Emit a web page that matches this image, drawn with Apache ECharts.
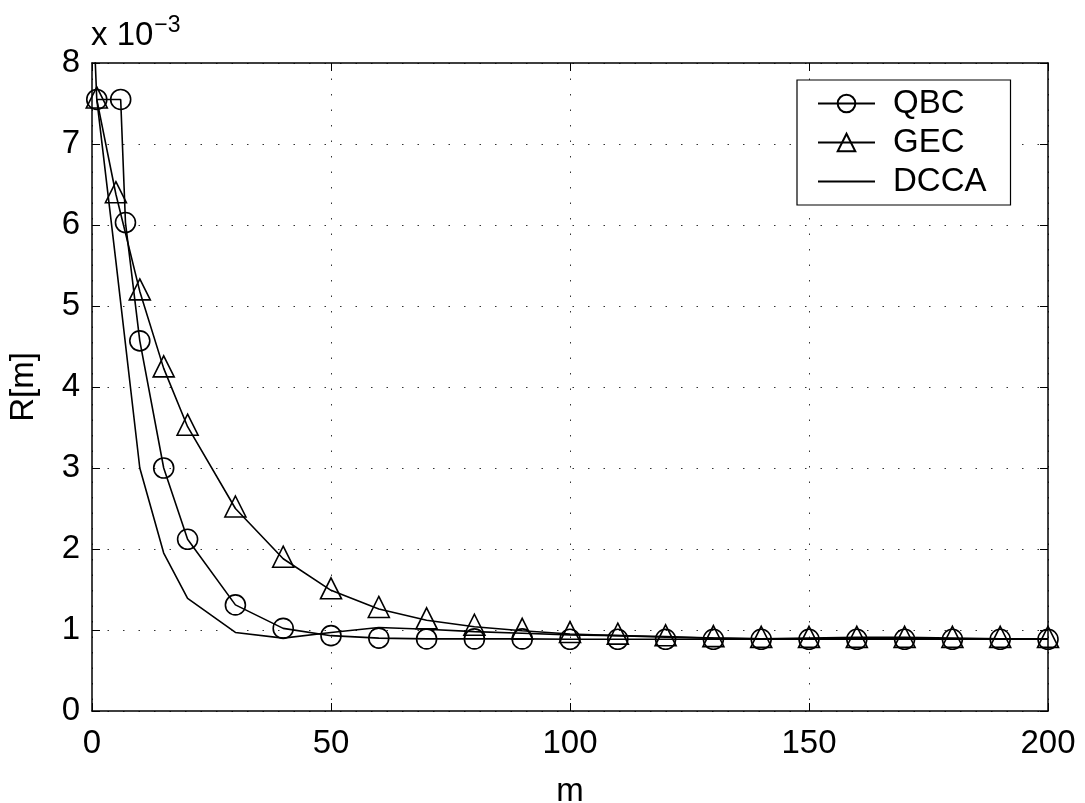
<!DOCTYPE html>
<html>
<head>
<meta charset="utf-8">
<script src="https://cdn.jsdelivr.net/npm/echarts@6/dist/echarts.min.js"></script>
<style>
  html, body { margin: 0; padding: 0; background: #fff; }
  #chart { width: 1085px; height: 803px; }
</style>
</head>
<body>
<div id="chart"></div>
<script>
// values in units of 1e-3
var qbcM = [1, 6, 7, 10, 15, 20, 30, 40, 50, 60, 70, 80, 90, 100, 110, 120, 130, 140, 150, 160, 170, 180, 190, 200];
var qbcR = [7.55, 7.55, 6.03, 4.57, 3.0, 2.12, 1.31, 1.02, 0.93, 0.9, 0.89, 0.89, 0.89, 0.885, 0.885, 0.885, 0.885, 0.885, 0.885, 0.885, 0.885, 0.885, 0.885, 0.885];

var gecM = [1, 5, 10, 15, 20, 30, 40, 50, 60, 70, 80, 90, 100, 110, 120, 130, 140, 150, 160, 170, 180, 190, 200];
var gecR = [7.55, 6.38, 5.18, 4.23, 3.51, 2.5, 1.88, 1.49, 1.26, 1.12, 1.04, 0.99, 0.95, 0.93, 0.91, 0.9, 0.89, 0.89, 0.89, 0.89, 0.89, 0.89, 0.89];

var dccaM = [0, 1, 5, 10, 15, 20, 30, 40, 50, 60, 70, 80, 90, 100, 110, 120, 130, 140, 150, 160, 170, 180, 190, 200];
var dccaR = [9, 7.55, 5.55, 3.0, 1.95, 1.39, 0.97, 0.9, 0.97, 1.03, 1.01, 0.98, 0.96, 0.94, 0.93, 0.92, 0.9, 0.89, 0.9, 0.91, 0.91, 0.9, 0.89, 0.89];

var yTicks = [0, 1, 2, 3, 4, 5, 6, 7, 8];
var xTicks = [0, 50, 100, 150, 200];

function pairs(xs, ys) {
    return xs.map(function (x, i) { return [x, ys[i]]; });
}

var font = 'Liberation Sans, Arial, Helvetica, sans-serif';
var chart = echarts.init(document.getElementById('chart'), null, { renderer: 'canvas' });

var gridLine = { show: true, lineStyle: { color: '#333', width: 1, type: [1.5, 14] } };
var tick = { show: true, inside: true, length: 8, lineStyle: { color: '#000', width: 1 } };
var axisLine = { show: true, onZero: false, lineStyle: { color: '#000', width: 1.5 } };

var option = {
    animation: false,
    backgroundColor: '#fff',
    grid: { left: 92, right: 37, top: 63, bottom: 92, containLabel: false, outerBoundsMode: 'none' },
    graphic: [{
        type: 'text',
        left: 91,
        top: 14,
        style: {
            text: 'x 10{s|−3}',
            font: '33px ' + font,
            fill: '#000',
            rich: { s: { fontSize: 23, fontFamily: font, verticalAlign: 'top', padding: [0, 0, 20, 1] } }
        }
    }],
    legend: {
        orient: 'vertical',
        left: 797,
        top: 80,
        padding: [7, 24, 7, 20],
        itemWidth: 57,
        itemHeight: 22,
        itemGap: 6,
        borderColor: '#000',
        borderWidth: 1.2,
        backgroundColor: '#fff',
        textStyle: { fontFamily: font, fontSize: 33, color: '#000', padding: [0, 0, 0, 13] },
        data: [
            'QBC',
            'GEC',
            { name: 'DCCA', itemStyle: { color: 'rgba(0,0,0,0)', borderWidth: 0, opacity: 0 } }
        ]
    },
    xAxis: [{
        type: 'value',
        min: 0, max: 200, interval: 50,
        name: 'm', nameLocation: 'middle', nameGap: 64,
        nameTextStyle: { fontFamily: font, fontSize: 33, color: '#000' },
        axisLine: axisLine,
        axisTick: tick,
        axisLabel: {
            margin: 16, fontFamily: font, fontSize: 33, color: '#000',
            formatter: function (v) { return xTicks.indexOf(v) >= 0 ? String(v) : ''; }
        },
        splitLine: gridLine
    }, {
        type: 'value', position: 'top',
        min: 0, max: 200, interval: 50,
        axisLine: axisLine, axisTick: tick,
        axisLabel: { show: false }, splitLine: { show: false }
    }],
    yAxis: [{
        type: 'value',
        min: 0, max: 8, interval: 1,
        name: 'R[m]', nameLocation: 'middle', nameGap: 52, nameRotate: 90,
        nameTextStyle: { fontFamily: font, fontSize: 33, color: '#000' },
        axisLine: axisLine,
        axisTick: tick,
        axisLabel: {
            margin: 12, fontFamily: font, fontSize: 33, color: '#000',
            formatter: function (v) { return yTicks.indexOf(v) >= 0 ? String(v) : ''; }
        },
        splitLine: gridLine
    }, {
        type: 'value', position: 'right',
        min: 0, max: 8, interval: 1,
        axisLine: axisLine, axisTick: tick,
        axisLabel: { show: false }, splitLine: { show: false }
    }],
    series: [{
        name: 'QBC',
        type: 'line',
        data: pairs(qbcM, qbcR),
        symbol: 'circle',
        symbolSize: 20,
        showAllSymbol: true,
        lineStyle: { color: '#000', width: 1.6 },
        itemStyle: { color: 'rgba(0,0,0,0)', borderColor: '#000', borderWidth: 1.6 },
        z: 3
    }, {
        name: 'GEC',
        type: 'line',
        data: pairs(gecM, gecR),
        symbol: 'triangle',
        symbolSize: 21,
        symbolOffset: [0, -2],
        showAllSymbol: true,
        lineStyle: { color: '#000', width: 1.6 },
        itemStyle: { color: 'rgba(0,0,0,0)', borderColor: '#000', borderWidth: 1.6 },
        z: 3
    }, {
        name: 'DCCA',
        type: 'line',
        data: pairs(dccaM, dccaR),
        symbol: 'none',
        lineStyle: { color: '#000', width: 1.6 },
        itemStyle: { color: '#000' },
        z: 3
    }]
};

chart.setOption(option);
</script>
</body>
</html>
